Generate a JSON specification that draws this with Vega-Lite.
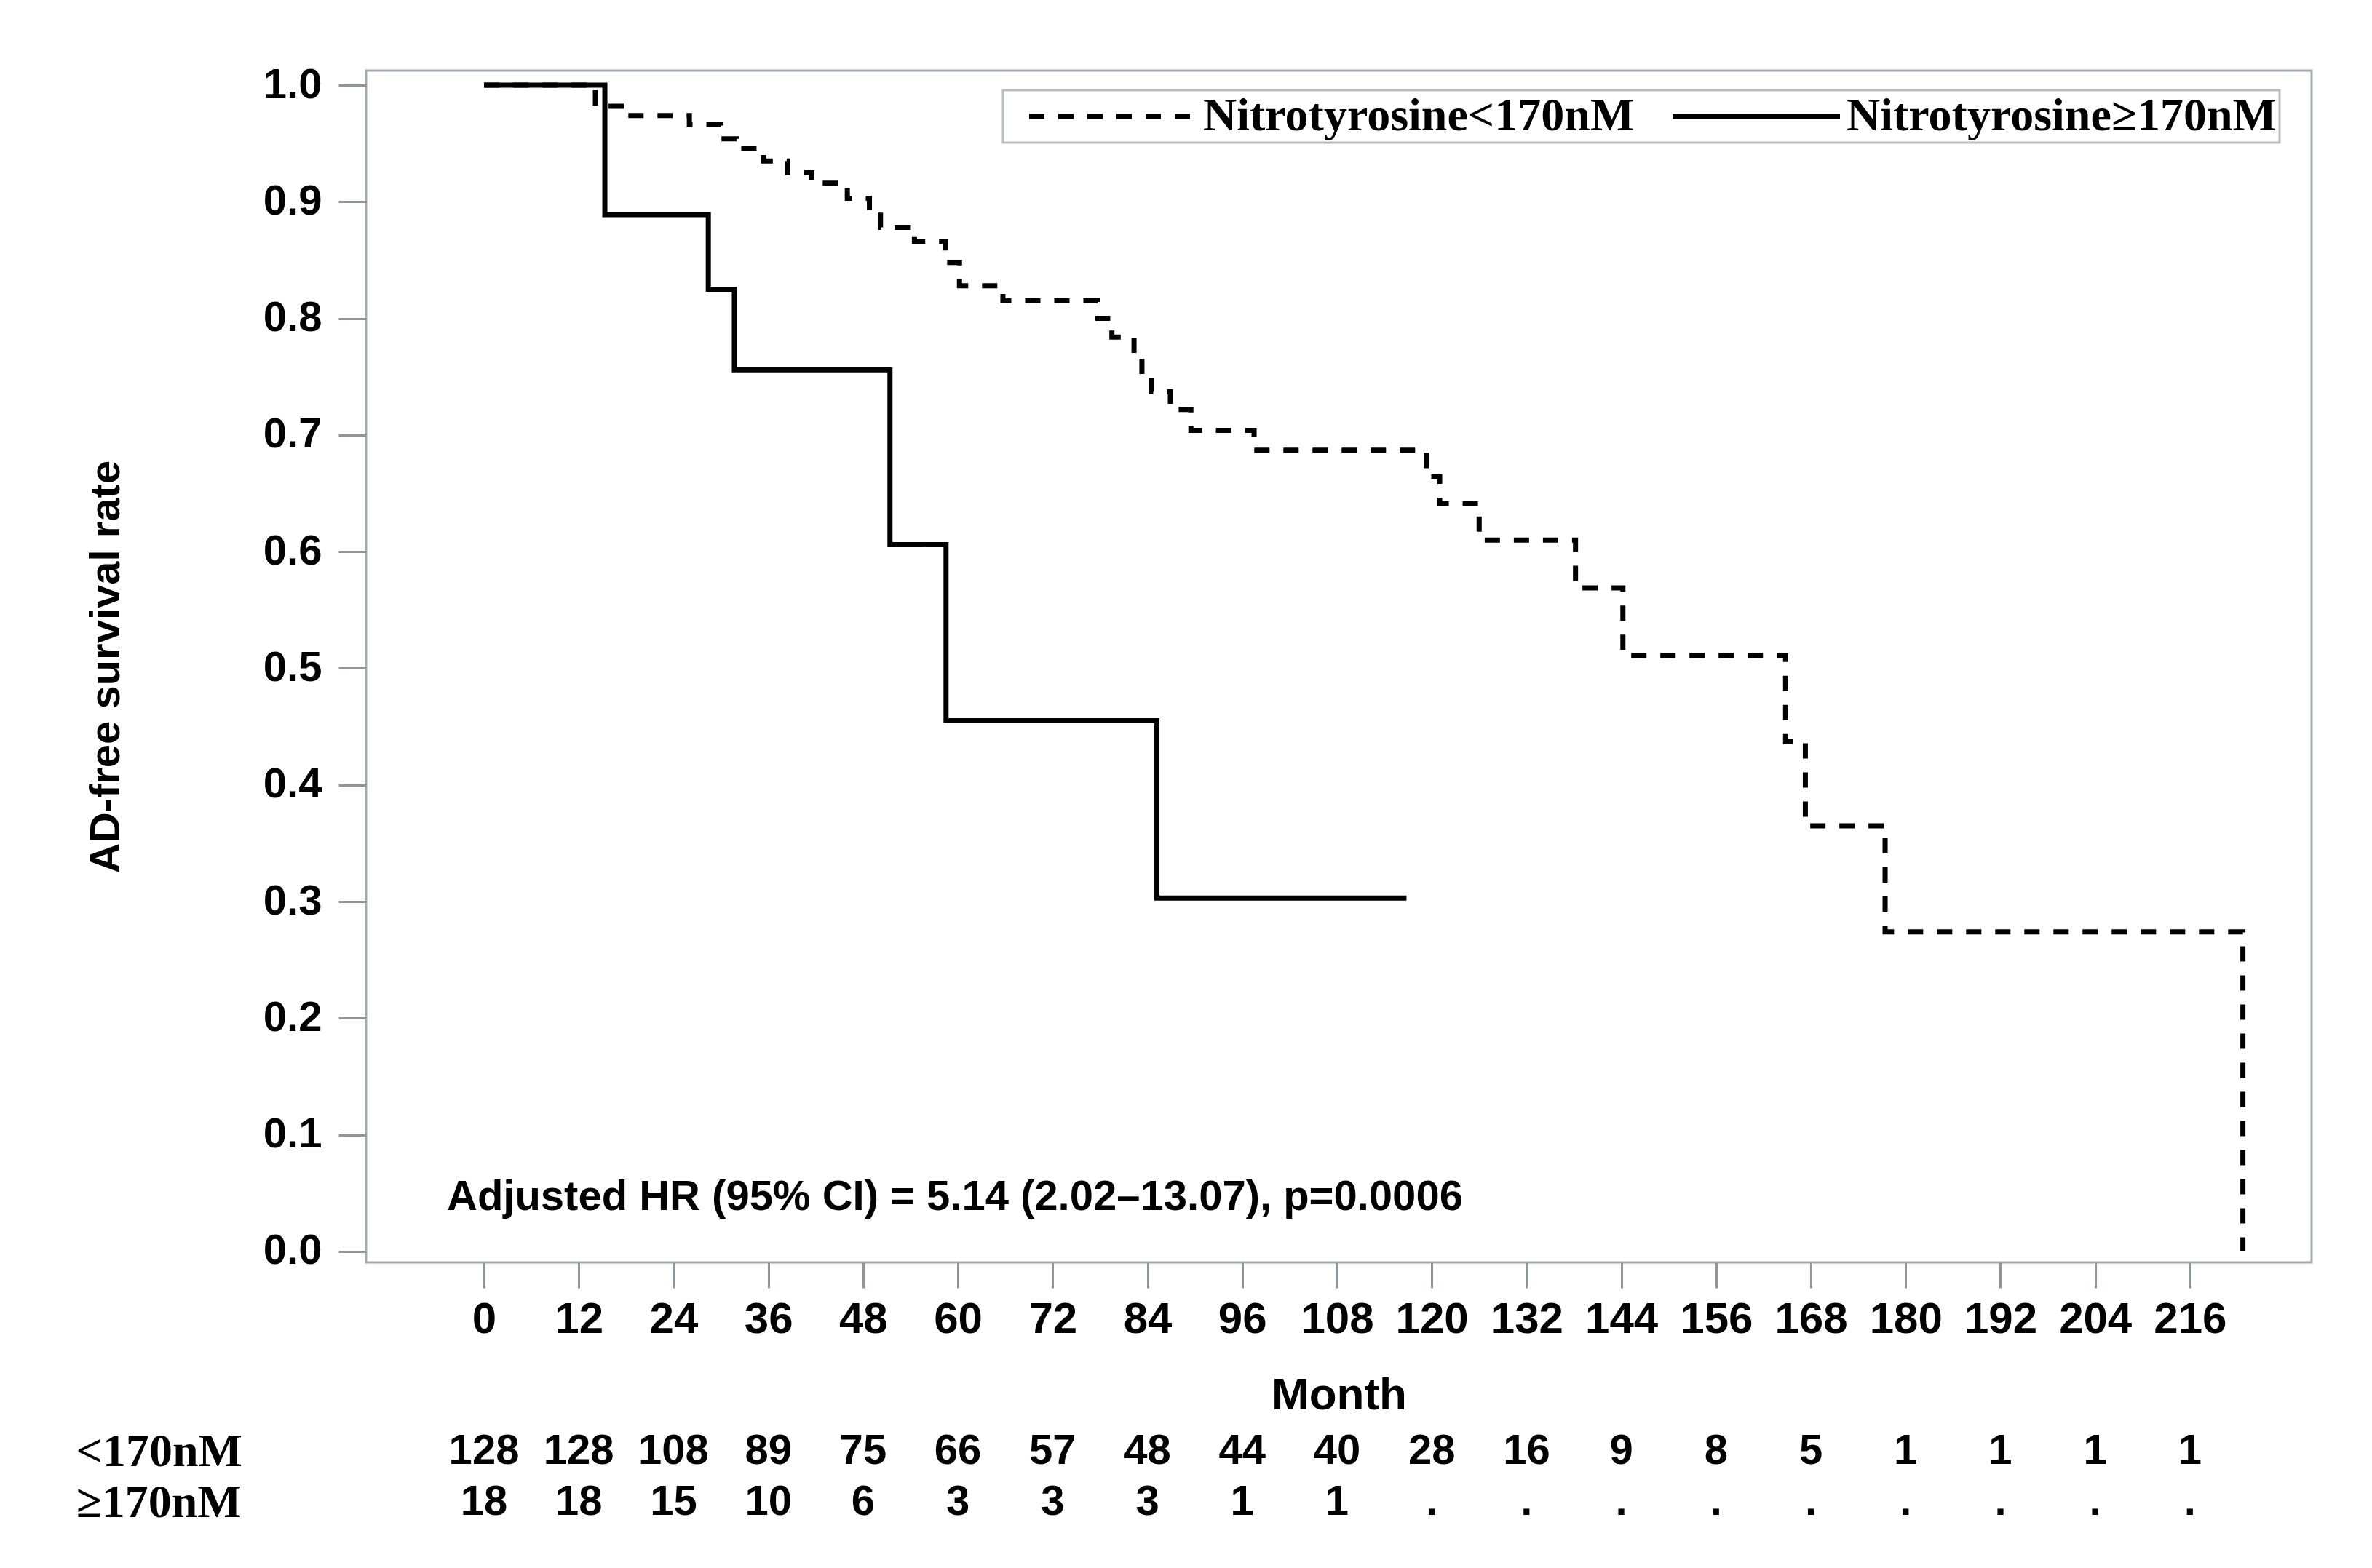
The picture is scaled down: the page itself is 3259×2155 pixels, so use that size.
{
  "$schema": "https://vega.github.io/schema/vega-lite/v6.json",
  "background": "white",
  "padding": {"left": 104, "top": 86, "right": 10, "bottom": 10},
  "spacing": 10,
  "config": {
    "view": {"stroke": null},
    "font": "Liberation Sans",
    "text": {"color": "#000000"},
    "legend": {"strokeWidth": 3}
  },
  "datasets": {
    "curves": [
      {"group": "Nitrotyrosine<170nM", "month": 0, "S": 1.0},
      {"group": "Nitrotyrosine<170nM", "month": 14.1, "S": 0.982},
      {"group": "Nitrotyrosine<170nM", "month": 18, "S": 0.974},
      {"group": "Nitrotyrosine<170nM", "month": 26, "S": 0.966},
      {"group": "Nitrotyrosine<170nM", "month": 30, "S": 0.954},
      {"group": "Nitrotyrosine<170nM", "month": 32, "S": 0.946},
      {"group": "Nitrotyrosine<170nM", "month": 35.4, "S": 0.935},
      {"group": "Nitrotyrosine<170nM", "month": 38.4, "S": 0.925},
      {"group": "Nitrotyrosine<170nM", "month": 41.5, "S": 0.916},
      {"group": "Nitrotyrosine<170nM", "month": 46, "S": 0.903},
      {"group": "Nitrotyrosine<170nM", "month": 48.8, "S": 0.892},
      {"group": "Nitrotyrosine<170nM", "month": 50.2, "S": 0.878},
      {"group": "Nitrotyrosine<170nM", "month": 54.5, "S": 0.866},
      {"group": "Nitrotyrosine<170nM", "month": 58.4, "S": 0.848},
      {"group": "Nitrotyrosine<170nM", "month": 60.2, "S": 0.828},
      {"group": "Nitrotyrosine<170nM", "month": 65.7, "S": 0.815},
      {"group": "Nitrotyrosine<170nM", "month": 77.7, "S": 0.8},
      {"group": "Nitrotyrosine<170nM", "month": 79.5, "S": 0.784},
      {"group": "Nitrotyrosine<170nM", "month": 82.3, "S": 0.77},
      {"group": "Nitrotyrosine<170nM", "month": 83.3, "S": 0.752},
      {"group": "Nitrotyrosine<170nM", "month": 84.5, "S": 0.737},
      {"group": "Nitrotyrosine<170nM", "month": 86.9, "S": 0.722},
      {"group": "Nitrotyrosine<170nM", "month": 89.5, "S": 0.704},
      {"group": "Nitrotyrosine<170nM", "month": 97.5, "S": 0.687},
      {"group": "Nitrotyrosine<170nM", "month": 119.3, "S": 0.664},
      {"group": "Nitrotyrosine<170nM", "month": 121, "S": 0.641},
      {"group": "Nitrotyrosine<170nM", "month": 126, "S": 0.61},
      {"group": "Nitrotyrosine<170nM", "month": 138.2, "S": 0.569},
      {"group": "Nitrotyrosine<170nM", "month": 144.2, "S": 0.511},
      {"group": "Nitrotyrosine<170nM", "month": 164.8, "S": 0.437},
      {"group": "Nitrotyrosine<170nM", "month": 167.3, "S": 0.365},
      {"group": "Nitrotyrosine<170nM", "month": 177.4, "S": 0.274},
      {"group": "Nitrotyrosine<170nM", "month": 222.7, "S": 0.0},
      {"group": "Nitrotyrosine≥170nM", "month": 0, "S": 1.0},
      {"group": "Nitrotyrosine≥170nM", "month": 15.3, "S": 0.889},
      {"group": "Nitrotyrosine≥170nM", "month": 28.4, "S": 0.825},
      {"group": "Nitrotyrosine≥170nM", "month": 31.7, "S": 0.756},
      {"group": "Nitrotyrosine≥170nM", "month": 51.4, "S": 0.606},
      {"group": "Nitrotyrosine≥170nM", "month": 58.5, "S": 0.455},
      {"group": "Nitrotyrosine≥170nM", "month": 85.2, "S": 0.303},
      {"group": "Nitrotyrosine≥170nM", "month": 116.8, "S": 0.303}
    ],
    "risk": [
      {"group": "<170nM", "month": 0, "n": "128"},
      {"group": "<170nM", "month": 12, "n": "128"},
      {"group": "<170nM", "month": 24, "n": "108"},
      {"group": "<170nM", "month": 36, "n": "89"},
      {"group": "<170nM", "month": 48, "n": "75"},
      {"group": "<170nM", "month": 60, "n": "66"},
      {"group": "<170nM", "month": 72, "n": "57"},
      {"group": "<170nM", "month": 84, "n": "48"},
      {"group": "<170nM", "month": 96, "n": "44"},
      {"group": "<170nM", "month": 108, "n": "40"},
      {"group": "<170nM", "month": 120, "n": "28"},
      {"group": "<170nM", "month": 132, "n": "16"},
      {"group": "<170nM", "month": 144, "n": "9"},
      {"group": "<170nM", "month": 156, "n": "8"},
      {"group": "<170nM", "month": 168, "n": "5"},
      {"group": "<170nM", "month": 180, "n": "1"},
      {"group": "<170nM", "month": 192, "n": "1"},
      {"group": "<170nM", "month": 204, "n": "1"},
      {"group": "<170nM", "month": 216, "n": "1"},
      {"group": "≥170nM", "month": 0, "n": "18"},
      {"group": "≥170nM", "month": 12, "n": "18"},
      {"group": "≥170nM", "month": 24, "n": "15"},
      {"group": "≥170nM", "month": 36, "n": "10"},
      {"group": "≥170nM", "month": 48, "n": "6"},
      {"group": "≥170nM", "month": 60, "n": "3"},
      {"group": "≥170nM", "month": 72, "n": "3"},
      {"group": "≥170nM", "month": 84, "n": "3"},
      {"group": "≥170nM", "month": 96, "n": "1"},
      {"group": "≥170nM", "month": 108, "n": "1"},
      {"group": "≥170nM", "month": 120, "n": "."},
      {"group": "≥170nM", "month": 132, "n": "."},
      {"group": "≥170nM", "month": 144, "n": "."},
      {"group": "≥170nM", "month": 156, "n": "."},
      {"group": "≥170nM", "month": 168, "n": "."},
      {"group": "≥170nM", "month": 180, "n": "."},
      {"group": "≥170nM", "month": 192, "n": "."},
      {"group": "≥170nM", "month": 204, "n": "."},
      {"group": "≥170nM", "month": 216, "n": "."}
    ],
    "note": [
      {"label": "Adjusted HR (95% CI) = 5.14 (2.02–13.07), p=0.0006"}
    ]
  },
  "vconcat": [
    {
      "width": 2673,
      "height": 1638,
      "view": {"stroke": "#a4abb0", "strokeWidth": 3},
      "layer": [
        {
          "data": {"name": "curves"},
          "mark": {"type": "line", "interpolate": "step-after", "strokeWidth": 7, "color": "#000000", "clip": true},
          "encoding": {
            "x": {
              "field": "month", "type": "quantitative",
              "scale": {"domain": [-14.93, 231.4], "nice": false, "zero": false},
              "axis": {
                "title": "Month", "values": [0,12,24,36,48,60,72,84,96,108,120,132,144,156,168,180,192,204,216],
                "domain": false, "grid": false, "tickSize": 35, "tickWidth": 3, "tickColor": "#8e979c",
                "labelFont": "Liberation Sans", "labelFontWeight": "bold", "labelFontSize": 60, "labelColor": "#000000",
                "labelPadding": 14, "labelFlush": false, "labelOverlap": false,
                "titleFont": "Liberation Sans", "titleFontWeight": "bold", "titleFontSize": 62, "titleColor": "#000000",
                "titlePadding": 44
              }
            },
            "y": {
              "field": "S", "type": "quantitative",
              "scale": {"domain": [-0.0094, 1.0125], "nice": false, "zero": false},
              "axis": {
                "title": "AD-free survival rate", "values": [0,0.1,0.2,0.3,0.4,0.5,0.6,0.7,0.8,0.9,1.0], "format": ".1f",
                "domain": false, "grid": false, "tickSize": 38, "tickWidth": 3, "tickColor": "#8e979c",
                "labelFont": "Liberation Sans", "labelFontWeight": "bold", "labelFontSize": 58, "labelColor": "#000000",
                "labelPadding": 23, "labelFlush": false, "labelOverlap": false,
                "titleFont": "Liberation Sans", "titleFontWeight": "bold", "titleFontSize": 58, "titleColor": "#000000",
                "titlePadding": 186
              }
            },
            "strokeDash": {
              "field": "group", "type": "nominal",
              "scale": {"domain": ["Nitrotyrosine<170nM", "Nitrotyrosine≥170nM"], "range": [[21, 19], [1, 0]]},
              "legend": {
                "orient": "none", "legendX": 875, "legendY": 27, "direction": "horizontal", "title": null,
                "symbolType": "M-1,0H9", "symbolSize": 2116, "symbolStrokeWidth": 7, "symbolStrokeColor": "#000000",
                "labelFont": "Liberation Serif", "labelFontWeight": "bold", "labelFontSize": 64, "labelColor": "#000000",
                "labelOffset": 184, "labelLimit": 0, "columnPadding": 20, "padding": 4, "symbolOffset": 23,
                "strokeColor": "#b8bec2", "fillColor": "white"
              }
            }
          }
        },
        {
          "data": {"name": "note"},
          "mark": {"type": "text", "align": "left", "baseline": "middle", "font": "Liberation Sans", "fontWeight": "bold", "fontSize": 58, "color": "#000000"},
          "encoding": {
            "x": {"datum": -4.7, "type": "quantitative"},
            "y": {"datum": 0.046, "type": "quantitative"},
            "text": {"field": "label"}
          }
        }
      ]
    },
    {
      "width": 2673,
      "height": 140,
      "view": {"stroke": null},
      "data": {"name": "risk"},
      "mark": {"type": "text", "baseline": "middle", "align": "center", "font": "Liberation Sans", "fontWeight": "bold", "fontSize": 58, "color": "#000000"},
      "encoding": {
        "x": {"field": "month", "type": "quantitative", "scale": {"domain": [-14.93, 231.4], "nice": false, "zero": false}, "axis": null},
        "y": {
          "field": "group", "type": "nominal",
          "scale": {"domain": ["<170nM", "≥170nM"], "paddingInner": 0, "paddingOuter": 0},
          "axis": {"title": null, "domain": false, "ticks": false, "labelAlign": "left", "labelPadding": 399, "labelLimit": 0,
                   "labelFont": "Liberation Serif", "labelFontWeight": "bold", "labelFontSize": 64, "labelColor": "#000000"}
        },
        "text": {"field": "n"}
      }
    }
  ]
}
